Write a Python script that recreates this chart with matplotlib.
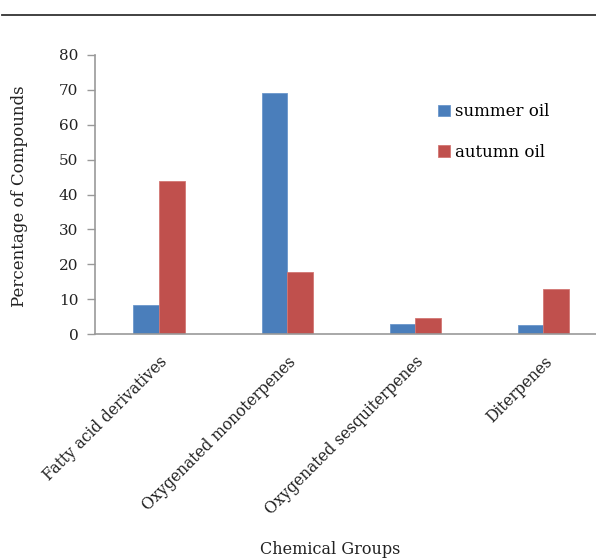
import numpy as np
import matplotlib
matplotlib.use("Agg")
import matplotlib.pyplot as plt
from matplotlib.lines import Line2D

groups = ["Fatty acid derivatives", "Oxygenated monoterpenes",
          "Oxygenated sesquiterpenes", "Diterpenes"]
summer_oil = [8.2, 69.0, 3.0, 2.5]
autumn_oil = [44.0, 17.8, 4.6, 13.0]
y_ticks = [0, 10, 20, 30, 40, 50, 60, 70, 80]

plt.rcParams["font.family"] = ["DejaVu Serif", "Liberation Serif"]

fig = plt.figure(figsize=(5.96, 5.6), dpi=100)
W, H = 596, 560
# axes box in pixels: left 95, right 607 (runs past the edge), top 55, bottom 334
ax = fig.add_axes([95 / W, 1 - 334 / H, (607.5 - 95) / W, (334 - 55) / H])

x = np.arange(len(groups))
w = 0.2
ax.bar(x - w / 2, summer_oil, width=w, color="#4a7ebb", edgecolor="#6b97cc",
       linewidth=0.6, label="summer oil")
ax.bar(x + w / 2, autumn_oil, width=w, color="#c0504d", edgecolor="#d27673",
       linewidth=0.6, label="autumn oil")

ax.set_xlim(-0.5, 3.5)
ax.set_ylim(0, 80)
ax.set_yticks(y_ticks)
ax.tick_params(axis="y", direction="out", length=6, width=1, color="#999999",
               labelsize=11, pad=6, labelcolor="#222222")
ax.set_xticks(x)
ax.set_xticklabels(groups, rotation=45, ha="right", rotation_mode="anchor",
                   fontsize=11.2, color="#222222")
ax.tick_params(axis="x", length=0, pad=14)

for side in ("top", "right"):
    ax.spines[side].set_visible(False)
for side in ("left", "bottom"):
    ax.spines[side].set_color("#999999")
    ax.spines[side].set_linewidth(1.2)

ax.set_ylabel("Percentage of Compounds", fontsize=12, color="#222222")
ax.yaxis.set_label_coords(20 / W, 1 - 196 / H, transform=fig.transFigure)
ax.yaxis.label.set_va("center")
fig.text(330 / W, 1 - 549 / H, "Chemical Groups", fontsize=11.5,
         color="#222222", ha="center", va="center")

ax.legend(loc="upper left", bbox_to_anchor=(0.64, 0.88), frameon=False,
          fontsize=12, handlelength=0.7, handleheight=0.7, handletextpad=0.3,
          labelspacing=1.4)

# rule across the top of the page
fig.add_artist(Line2D([2 / W, 1], [1 - 15 / H, 1 - 15 / H],
                      color="#333333", linewidth=1.3))

fig.savefig("out.png", dpi=100)
